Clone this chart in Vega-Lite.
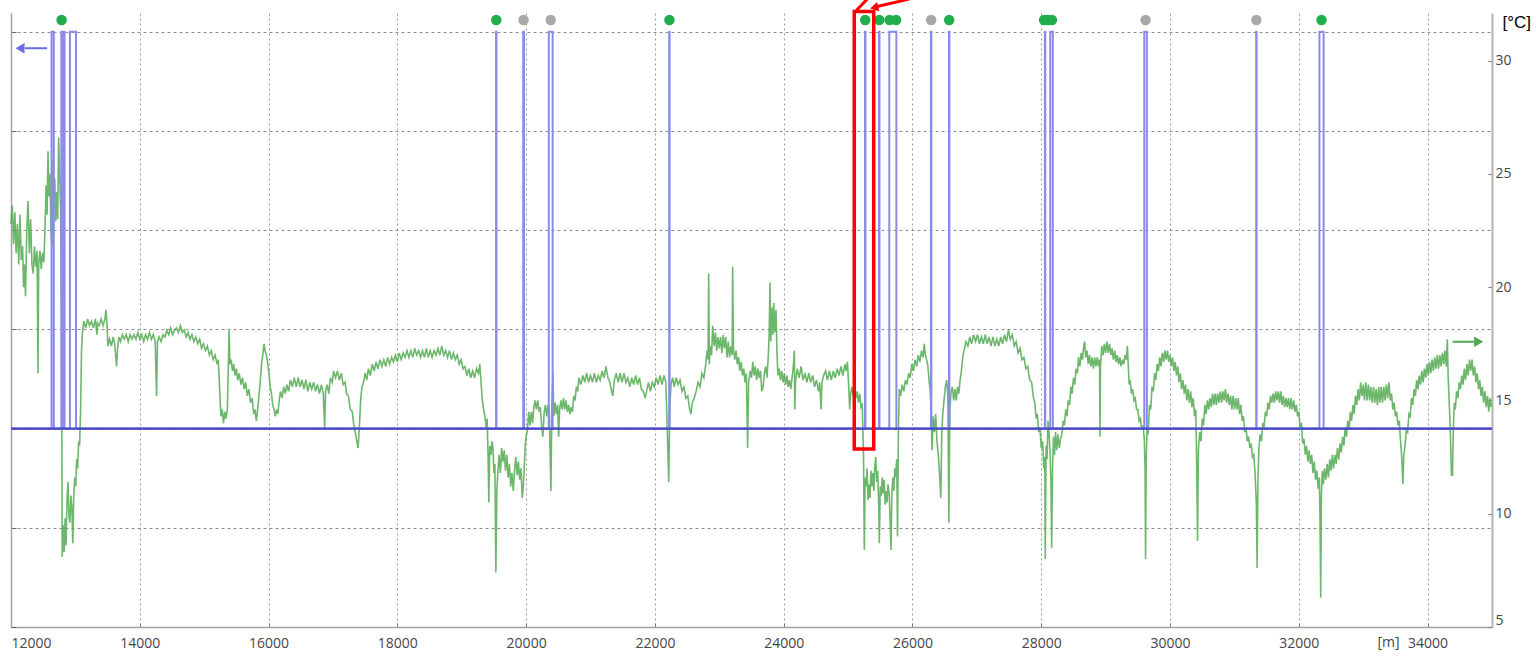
{
  "$schema": "https://vega.github.io/schema/vega-lite/v6.json",
  "autosize": "none",
  "width": 1481,
  "height": 614,
  "padding": {"left": 11, "top": 13, "right": 44, "bottom": 29},
  "background": "white",
  "config": {
    "view": {"stroke": null},
    "font": "Open Sans",
    "axis": {"labelFont": "Open Sans", "labelFontSize": 14, "labelColor": "#454545"}
  },
  "datasets": {
    "temperature": [
      {"m":12000,"t":22.8},{"m":12020,"t":23.6},{"m":12040,"t":21.9},{"m":12060,"t":23.3},{"m":12080,"t":21.5},{"m":12100,"t":22.8},{"m":12120,"t":21.0},{"m":12140,"t":23.2},{"m":12160,"t":21.2},{"m":12180,"t":21.8},{"m":12195,"t":20.0},{"m":12210,"t":21.0},{"m":12225,"t":19.6},{"m":12245,"t":22.5},{"m":12265,"t":23.8},{"m":12285,"t":21.5},{"m":12305,"t":23.0},{"m":12325,"t":21.0},{"m":12345,"t":20.6},{"m":12365,"t":21.8},{"m":12385,"t":20.9},{"m":12405,"t":21.6},{"m":12420,"t":16.2},{"m":12430,"t":21.0},{"m":12450,"t":21.6},{"m":12470,"t":20.8},{"m":12490,"t":21.5},{"m":12510,"t":21.1},{"m":12530,"t":22.8},{"m":12545,"t":24.5},{"m":12560,"t":23.2},{"m":12575,"t":26.0},{"m":12590,"t":24.0},{"m":12605,"t":25.0},{"m":12620,"t":22.6},{"m":12635,"t":21.8},{"m":12650,"t":25.6},{"m":12665,"t":23.5},{"m":12680,"t":24.8},{"m":12695,"t":22.9},{"m":12710,"t":24.2},{"m":12725,"t":23.0},{"m":12740,"t":26.6},{"m":12755,"t":25.0},{"m":12770,"t":23.5},{"m":12785,"t":19.0},{"m":12795,"t":8.1},{"m":12810,"t":9.5},{"m":12825,"t":8.3},{"m":12840,"t":9.8},{"m":12855,"t":8.6},{"m":12870,"t":10.6},{"m":12885,"t":11.4},{"m":12900,"t":9.9},{"m":12915,"t":9.6},{"m":12930,"t":10.8},{"m":12945,"t":10.3},{"m":12960,"t":8.7},{"m":12975,"t":10.8},{"m":12990,"t":11.6},{"m":13005,"t":11.2},{"m":13020,"t":12.4},{"m":13035,"t":12.0},{"m":13050,"t":13.2},{"m":13065,"t":13.0},{"m":13080,"t":14.5},{"m":13095,"t":17.2},{"m":13110,"t":18.0},
      {"m":13130,"t":18.5},{"m":13160,"t":18.2},{"m":13190,"t":18.6},{"m":13220,"t":18.3},{"m":13250,"t":18.5},{"m":13280,"t":18.2},{"m":13310,"t":18.6},{"m":13335,"t":17.9},{"m":13345,"t":18.4},{"m":13370,"t":18.3},{"m":13400,"t":18.6},{"m":13430,"t":18.3},{"m":13460,"t":18.6},{"m":13474,"t":19.0},{"m":13490,"t":18.4},{"m":13505,"t":17.4},{"m":13530,"t":17.7},{"m":13560,"t":17.4},{"m":13585,"t":17.8},{"m":13610,"t":17.5},{"m":13640,"t":16.5},{"m":13655,"t":17.3},{"m":13675,"t":17.8},{"m":13700,"t":17.6},{"m":13730,"t":17.9},{"m":13760,"t":17.7},{"m":13790,"t":17.9},{"m":13820,"t":17.6},{"m":13850,"t":17.9},{"m":13880,"t":17.7},{"m":13910,"t":17.9},{"m":13940,"t":17.7},{"m":13970,"t":18.0},{"m":14000,"t":17.7},{"m":14030,"t":17.9},{"m":14060,"t":17.6},{"m":14090,"t":17.9},{"m":14120,"t":17.7},{"m":14150,"t":18.0},{"m":14180,"t":17.7},{"m":14210,"t":17.9},{"m":14240,"t":17.6},{"m":14260,"t":15.2},{"m":14275,"t":17.6},{"m":14300,"t":17.8},{"m":14330,"t":17.6},{"m":14360,"t":17.9},{"m":14390,"t":17.8},{"m":14420,"t":18.1},{"m":14450,"t":17.9},{"m":14480,"t":18.2},{"m":14510,"t":17.9},{"m":14540,"t":18.1},{"m":14570,"t":18.2},{"m":14600,"t":18.0},{"m":14630,"t":18.3},{"m":14660,"t":18.0},{"m":14690,"t":18.1},{"m":14720,"t":17.8},{"m":14750,"t":18.0},{"m":14780,"t":17.7},{"m":14810,"t":17.9},{"m":14840,"t":17.6},{"m":14870,"t":17.8},{"m":14900,"t":17.5},{"m":14930,"t":17.7},{"m":14960,"t":17.3},{"m":14990,"t":17.5},{"m":15020,"t":17.2},{"m":15050,"t":17.4},{"m":15080,"t":17.0},{"m":15110,"t":17.2},{"m":15140,"t":16.8},{"m":15170,"t":17.0},{"m":15200,"t":16.6},{"m":15220,"t":16.8},{"m":15240,"t":15.5},{"m":15260,"t":14.3},{"m":15280,"t":14.6},{"m":15300,"t":14.0},{"m":15320,"t":14.5},{"m":15340,"t":14.2},{"m":15360,"t":14.6},{"m":15375,"t":16.5},{"m":15387,"t":18.1},{"m":15400,"t":16.6},{"m":15420,"t":16.8},{"m":15440,"t":16.3},{"m":15460,"t":16.6},{"m":15480,"t":16.1},{"m":15500,"t":16.4},{"m":15520,"t":15.9},{"m":15545,"t":16.2},{"m":15570,"t":15.7},{"m":15595,"t":16.0},{"m":15620,"t":15.5},{"m":15645,"t":15.8},{"m":15670,"t":15.2},{"m":15695,"t":15.5},{"m":15720,"t":14.9},{"m":15745,"t":15.1},{"m":15770,"t":14.4},{"m":15790,"t":14.6},{"m":15810,"t":14.1},{"m":15830,"t":14.6},{"m":15850,"t":15.2},{"m":15870,"t":15.8},{"m":15890,"t":16.6},{"m":15910,"t":17.0},{"m":15930,"t":17.5},{"m":15945,"t":17.2},{"m":15965,"t":17.0},{"m":15985,"t":16.7},{"m":16005,"t":16.2},{"m":16025,"t":15.6},{"m":16045,"t":15.3},{"m":16065,"t":14.8},{"m":16085,"t":14.6},{"m":16105,"t":14.3},{"m":16125,"t":14.6},{"m":16145,"t":14.4},{"m":16165,"t":15.0},{"m":16185,"t":15.4},{"m":16210,"t":15.1},{"m":16235,"t":15.6},{"m":16260,"t":15.3},{"m":16285,"t":15.7},{"m":16310,"t":15.4},{"m":16340,"t":15.9},{"m":16370,"t":15.6},{"m":16400,"t":16.0},{"m":16430,"t":15.6},{"m":16460,"t":16.0},{"m":16490,"t":15.6},{"m":16520,"t":15.9},{"m":16550,"t":15.5},{"m":16580,"t":15.9},{"m":16610,"t":15.4},{"m":16640,"t":15.8},{"m":16670,"t":15.5},{"m":16700,"t":15.8},{"m":16730,"t":15.4},{"m":16760,"t":15.7},{"m":16790,"t":15.3},{"m":16820,"t":15.7},{"m":16850,"t":15.3},{"m":16870,"t":13.8},{"m":16885,"t":15.4},{"m":16910,"t":15.7},{"m":16935,"t":15.3},{"m":16960,"t":16.0},{"m":16990,"t":15.8},{"m":17010,"t":16.3},{"m":17040,"t":16.0},{"m":17070,"t":16.3},{"m":17100,"t":15.9},{"m":17130,"t":16.2},{"m":17160,"t":15.7},{"m":17190,"t":15.8},{"m":17210,"t":15.3},{"m":17240,"t":15.2},{"m":17270,"t":14.6},{"m":17300,"t":14.5},{"m":17320,"t":14.0},{"m":17345,"t":13.6},{"m":17370,"t":13.2},{"m":17390,"t":12.9},{"m":17410,"t":13.8},{"m":17430,"t":15.0},{"m":17450,"t":15.6},{"m":17475,"t":15.8},{"m":17500,"t":16.2},{"m":17525,"t":15.9},{"m":17550,"t":16.4},{"m":17580,"t":16.1},{"m":17610,"t":16.6},{"m":17640,"t":16.3},{"m":17670,"t":16.7},{"m":17700,"t":16.4},{"m":17730,"t":16.8},{"m":17760,"t":16.5},{"m":17790,"t":16.8},{"m":17820,"t":16.5},{"m":17850,"t":16.9},{"m":17880,"t":16.6},{"m":17910,"t":16.9},{"m":17940,"t":16.7},{"m":17970,"t":17.0},{"m":18000,"t":16.7},{"m":18030,"t":17.1},{"m":18060,"t":16.8},{"m":18090,"t":17.1},{"m":18120,"t":16.9},{"m":18150,"t":17.2},{"m":18180,"t":16.9},{"m":18210,"t":17.2},{"m":18240,"t":16.9},{"m":18270,"t":17.3},{"m":18300,"t":17.0},{"m":18330,"t":17.2},{"m":18360,"t":16.9},{"m":18390,"t":17.2},{"m":18420,"t":16.9},{"m":18450,"t":17.3},{"m":18480,"t":16.9},{"m":18510,"t":17.2},{"m":18540,"t":16.9},{"m":18570,"t":17.2},{"m":18600,"t":17.0},{"m":18630,"t":17.3},{"m":18660,"t":17.0},{"m":18690,"t":17.4},{"m":18720,"t":17.0},{"m":18750,"t":17.2},{"m":18780,"t":16.9},{"m":18810,"t":17.2},{"m":18840,"t":16.8},{"m":18870,"t":17.1},{"m":18900,"t":16.8},{"m":18930,"t":17.0},{"m":18960,"t":16.6},{"m":18990,"t":16.8},{"m":19020,"t":16.4},{"m":19050,"t":16.5},{"m":19080,"t":16.1},{"m":19110,"t":16.4},{"m":19140,"t":16.0},{"m":19170,"t":16.3},{"m":19200,"t":16.0},{"m":19230,"t":16.4},{"m":19260,"t":16.2},{"m":19280,"t":16.6},{"m":19300,"t":15.8},{"m":19320,"t":15.0},{"m":19340,"t":14.6},{"m":19360,"t":14.3},{"m":19380,"t":13.8},{"m":19395,"t":14.2},{"m":19410,"t":12.4},{"m":19421,"t":10.5},{"m":19435,"t":13.0},{"m":19455,"t":12.6},{"m":19470,"t":13.2},{"m":19485,"t":12.9},{"m":19500,"t":11.8},{"m":19515,"t":12.2},{"m":19530,"t":7.4},{"m":19545,"t":11.0},{"m":19560,"t":11.8},{"m":19580,"t":12.6},{"m":19600,"t":11.8},{"m":19620,"t":12.9},{"m":19640,"t":12.3},{"m":19660,"t":12.8},{"m":19680,"t":11.9},{"m":19700,"t":12.6},{"m":19720,"t":11.6},{"m":19740,"t":12.2},{"m":19760,"t":11.2},{"m":19780,"t":11.8},{"m":19800,"t":11.0},{"m":19820,"t":11.9},{"m":19840,"t":12.5},{"m":19860,"t":11.7},{"m":19880,"t":12.3},{"m":19900,"t":11.5},{"m":19920,"t":12.0},{"m":19940,"t":10.7},{"m":19955,"t":11.2},{"m":19970,"t":11.9},{"m":19985,"t":13.0},{"m":20000,"t":13.4},{"m":20020,"t":13.7},{"m":20040,"t":14.5},{"m":20060,"t":13.9},{"m":20080,"t":14.5},{"m":20100,"t":14.0},{"m":20120,"t":14.7},{"m":20140,"t":15.0},{"m":20160,"t":14.6},{"m":20180,"t":15.0},{"m":20200,"t":14.5},{"m":20220,"t":14.7},{"m":20240,"t":13.9},{"m":20260,"t":13.4},{"m":20280,"t":14.5},{"m":20300,"t":14.8},{"m":20320,"t":14.3},{"m":20340,"t":14.8},{"m":20360,"t":14.4},{"m":20385,"t":11.0},{"m":20400,"t":14.9},{"m":20415,"t":16.2},{"m":20430,"t":14.3},{"m":20450,"t":14.9},{"m":20470,"t":14.4},{"m":20490,"t":14.8},{"m":20505,"t":13.4},{"m":20520,"t":14.6},{"m":20540,"t":15.0},{"m":20560,"t":14.6},{"m":20580,"t":15.1},{"m":20600,"t":14.6},{"m":20620,"t":15.0},{"m":20640,"t":14.5},{"m":20660,"t":14.8},{"m":20680,"t":14.4},{"m":20700,"t":14.7},{"m":20720,"t":14.5},{"m":20740,"t":15.2},{"m":20760,"t":15.0},{"m":20780,"t":15.6},{"m":20800,"t":15.4},{"m":20820,"t":16.0},{"m":20850,"t":15.7},{"m":20880,"t":16.1},{"m":20910,"t":15.8},{"m":20940,"t":16.2},{"m":20970,"t":15.8},{"m":21000,"t":16.1},{"m":21030,"t":15.8},{"m":21060,"t":16.2},{"m":21090,"t":15.8},{"m":21120,"t":16.1},{"m":21150,"t":15.9},{"m":21180,"t":16.3},{"m":21210,"t":16.0},{"m":21240,"t":16.5},{"m":21270,"t":16.0},{"m":21300,"t":15.8},{"m":21320,"t":15.5},{"m":21345,"t":15.2},{"m":21370,"t":15.9},{"m":21400,"t":16.2},{"m":21430,"t":15.8},{"m":21460,"t":16.2},{"m":21490,"t":15.8},{"m":21520,"t":16.2},{"m":21550,"t":15.8},{"m":21580,"t":16.0},{"m":21610,"t":15.6},{"m":21640,"t":16.0},{"m":21670,"t":15.7},{"m":21700,"t":16.1},{"m":21730,"t":15.7},{"m":21760,"t":16.0},{"m":21790,"t":15.5},{"m":21820,"t":15.4},{"m":21850,"t":15.1},{"m":21870,"t":15.4},{"m":21900,"t":15.8},{"m":21930,"t":15.4},{"m":21960,"t":15.8},{"m":21990,"t":15.6},{"m":22020,"t":16.0},{"m":22050,"t":15.7},{"m":22080,"t":16.1},{"m":22110,"t":15.7},{"m":22140,"t":16.1},{"m":22170,"t":15.8},{"m":22195,"t":13.4},{"m":22215,"t":11.4},{"m":22230,"t":14.6},{"m":22250,"t":15.7},{"m":22275,"t":16.0},{"m":22300,"t":15.6},{"m":22330,"t":16.0},{"m":22360,"t":15.7},{"m":22390,"t":15.9},{"m":22420,"t":15.4},{"m":22450,"t":15.6},{"m":22480,"t":15.1},{"m":22510,"t":15.2},{"m":22540,"t":14.6},{"m":22560,"t":14.4},{"m":22580,"t":14.9},{"m":22610,"t":15.1},{"m":22640,"t":15.4},{"m":22670,"t":15.8},{"m":22700,"t":15.6},{"m":22730,"t":16.2},{"m":22760,"t":16.0},{"m":22790,"t":16.6},{"m":22810,"t":17.2},{"m":22825,"t":16.8},{"m":22835,"t":20.6},{"m":22845,"t":16.6},{"m":22860,"t":17.4},{"m":22880,"t":17.0},{"m":22897,"t":18.3},{"m":22920,"t":17.4},{"m":22940,"t":18.0},{"m":22960,"t":17.2},{"m":22980,"t":17.8},{"m":23000,"t":17.3},{"m":23020,"t":17.8},{"m":23040,"t":17.1},{"m":23060,"t":17.9},{"m":23080,"t":17.3},{"m":23100,"t":17.8},{"m":23120,"t":16.9},{"m":23140,"t":17.6},{"m":23160,"t":16.9},{"m":23180,"t":17.4},{"m":23200,"t":17.0},{"m":23207,"t":20.9},{"m":23220,"t":17.3},{"m":23240,"t":16.8},{"m":23260,"t":17.2},{"m":23280,"t":16.6},{"m":23300,"t":16.9},{"m":23320,"t":16.3},{"m":23340,"t":16.7},{"m":23360,"t":16.1},{"m":23380,"t":16.4},{"m":23400,"t":15.8},{"m":23420,"t":16.2},{"m":23440,"t":12.9},{"m":23455,"t":15.8},{"m":23480,"t":16.3},{"m":23500,"t":16.0},{"m":23520,"t":16.7},{"m":23540,"t":16.1},{"m":23560,"t":16.5},{"m":23580,"t":15.9},{"m":23600,"t":16.4},{"m":23620,"t":16.0},{"m":23640,"t":16.3},{"m":23660,"t":15.4},{"m":23680,"t":15.6},{"m":23700,"t":16.2},{"m":23720,"t":16.5},{"m":23740,"t":16.0},{"m":23760,"t":16.9},{"m":23775,"t":18.0},{"m":23787,"t":20.2},{"m":23800,"t":17.6},{"m":23815,"t":19.1},{"m":23830,"t":17.9},{"m":23845,"t":19.3},{"m":23860,"t":18.0},{"m":23880,"t":19.0},{"m":23895,"t":17.2},{"m":23910,"t":16.1},{"m":23930,"t":16.4},{"m":23950,"t":15.9},{"m":23970,"t":16.3},{"m":23990,"t":15.8},{"m":24010,"t":16.2},{"m":24030,"t":15.7},{"m":24050,"t":16.1},{"m":24070,"t":15.6},{"m":24090,"t":15.9},{"m":24110,"t":15.5},{"m":24130,"t":16.0},{"m":24150,"t":16.5},{"m":24165,"t":17.2},{"m":24172,"t":14.6},{"m":24185,"t":15.9},{"m":24210,"t":16.4},{"m":24240,"t":16.0},{"m":24270,"t":16.5},{"m":24300,"t":15.9},{"m":24330,"t":16.2},{"m":24360,"t":15.8},{"m":24390,"t":16.2},{"m":24420,"t":15.8},{"m":24450,"t":16.1},{"m":24480,"t":15.6},{"m":24510,"t":15.9},{"m":24540,"t":15.4},{"m":24560,"t":15.8},{"m":24579,"t":14.6},{"m":24595,"t":15.8},{"m":24620,"t":16.1},{"m":24650,"t":16.3},{"m":24680,"t":15.9},{"m":24710,"t":16.3},{"m":24740,"t":15.9},{"m":24770,"t":16.3},{"m":24800,"t":16.0},{"m":24830,"t":16.4},{"m":24860,"t":16.1},{"m":24890,"t":16.5},{"m":24920,"t":16.1},{"m":24950,"t":16.6},{"m":24970,"t":16.3},{"m":24990,"t":16.7},{"m":25010,"t":15.6},{"m":25025,"t":14.6},{"m":25040,"t":15.3},{"m":25060,"t":15.6},{"m":25080,"t":15.2},{"m":25100,"t":15.5},{"m":25120,"t":15.1},{"m":25140,"t":15.4},{"m":25160,"t":14.9},{"m":25180,"t":15.3},{"m":25200,"t":14.7},{"m":25220,"t":14.8},{"m":25240,"t":12.5},{"m":25252,"t":8.4},{"m":25265,"t":11.6},{"m":25280,"t":11.2},{"m":25295,"t":12.0},{"m":25310,"t":10.6},{"m":25325,"t":11.3},{"m":25340,"t":10.7},{"m":25355,"t":11.9},{"m":25370,"t":11.2},{"m":25385,"t":11.8},{"m":25400,"t":11.0},{"m":25415,"t":12.1},{"m":25430,"t":12.5},{"m":25445,"t":11.4},{"m":25460,"t":11.9},{"m":25475,"t":10.5},{"m":25485,"t":8.7},{"m":25500,"t":11.2},{"m":25515,"t":10.8},{"m":25530,"t":11.6},{"m":25545,"t":10.9},{"m":25560,"t":11.5},{"m":25575,"t":10.4},{"m":25590,"t":11.0},{"m":25605,"t":10.5},{"m":25620,"t":11.3},{"m":25640,"t":10.8},{"m":25655,"t":9.5},{"m":25667,"t":8.4},{"m":25680,"t":10.9},{"m":25695,"t":11.6},{"m":25710,"t":11.0},{"m":25725,"t":12.0},{"m":25740,"t":11.6},{"m":25755,"t":12.4},{"m":25768,"t":9.0},{"m":25782,"t":13.8},{"m":25795,"t":15.5},{"m":25815,"t":15.2},{"m":25840,"t":15.7},{"m":25865,"t":15.4},{"m":25890,"t":15.9},{"m":25915,"t":15.7},{"m":25940,"t":16.2},{"m":25965,"t":16.0},{"m":25990,"t":16.6},{"m":26015,"t":16.3},{"m":26040,"t":16.8},{"m":26065,"t":16.5},{"m":26090,"t":17.0},{"m":26115,"t":16.7},{"m":26140,"t":17.2},{"m":26165,"t":16.9},{"m":26182,"t":17.5},{"m":26200,"t":17.0},{"m":26220,"t":16.8},{"m":26240,"t":16.5},{"m":26260,"t":15.8},{"m":26275,"t":15.5},{"m":26290,"t":14.5},{"m":26305,"t":12.8},{"m":26320,"t":14.3},{"m":26340,"t":13.6},{"m":26360,"t":14.4},{"m":26380,"t":13.2},{"m":26400,"t":12.6},{"m":26420,"t":11.8},{"m":26440,"t":10.7},{"m":26455,"t":13.6},{"m":26470,"t":14.4},{"m":26490,"t":15.0},{"m":26510,"t":15.6},{"m":26530,"t":15.9},{"m":26550,"t":15.2},{"m":26565,"t":9.6},{"m":26580,"t":14.6},{"m":26600,"t":15.4},{"m":26620,"t":15.6},{"m":26640,"t":15.0},{"m":26660,"t":15.5},{"m":26680,"t":15.0},{"m":26700,"t":15.6},{"m":26720,"t":15.3},{"m":26740,"t":15.9},{"m":26760,"t":16.3},{"m":26780,"t":16.9},{"m":26800,"t":17.2},{"m":26830,"t":17.6},{"m":26860,"t":17.4},{"m":26890,"t":17.8},{"m":26920,"t":17.5},{"m":26950,"t":17.9},{"m":26980,"t":17.6},{"m":27010,"t":17.9},{"m":27040,"t":17.5},{"m":27070,"t":17.8},{"m":27100,"t":17.5},{"m":27130,"t":17.9},{"m":27160,"t":17.5},{"m":27190,"t":17.8},{"m":27220,"t":17.4},{"m":27250,"t":17.8},{"m":27280,"t":17.4},{"m":27310,"t":17.7},{"m":27340,"t":17.4},{"m":27370,"t":17.8},{"m":27400,"t":17.5},{"m":27430,"t":17.9},{"m":27460,"t":17.6},{"m":27490,"t":18.1},{"m":27520,"t":17.7},{"m":27550,"t":17.9},{"m":27580,"t":17.4},{"m":27610,"t":17.6},{"m":27640,"t":17.1},{"m":27670,"t":17.3},{"m":27700,"t":16.8},{"m":27730,"t":16.9},{"m":27760,"t":16.4},{"m":27790,"t":16.5},{"m":27820,"t":15.9},{"m":27850,"t":15.8},{"m":27880,"t":15.1},{"m":27900,"t":14.9},{"m":27920,"t":14.2},{"m":27940,"t":14.4},{"m":27960,"t":13.6},{"m":27980,"t":13.8},{"m":28000,"t":12.9},{"m":28020,"t":13.2},{"m":28040,"t":12.0},{"m":28055,"t":12.5},{"m":28062,"t":8.0},{"m":28075,"t":13.0},{"m":28090,"t":12.4},{"m":28105,"t":14.1},{"m":28120,"t":13.6},{"m":28135,"t":12.8},{"m":28150,"t":11.5},{"m":28162,"t":8.5},{"m":28175,"t":12.0},{"m":28190,"t":13.4},{"m":28205,"t":12.6},{"m":28222,"t":13.6},{"m":28240,"t":12.8},{"m":28260,"t":13.5},{"m":28280,"t":12.9},{"m":28300,"t":13.3},{"m":28320,"t":13.5},{"m":28340,"t":14.1},{"m":28360,"t":13.9},{"m":28380,"t":14.6},{"m":28400,"t":14.3},{"m":28420,"t":15.0},{"m":28440,"t":14.8},{"m":28460,"t":15.6},{"m":28480,"t":15.3},{"m":28500,"t":16.0},{"m":28520,"t":15.7},{"m":28540,"t":16.4},{"m":28560,"t":16.2},{"m":28580,"t":16.9},{"m":28600,"t":16.5},{"m":28620,"t":17.1},{"m":28640,"t":16.8},{"m":28660,"t":17.4},{"m":28673,"t":17.6},{"m":28690,"t":16.9},{"m":28710,"t":17.2},{"m":28730,"t":16.6},{"m":28750,"t":17.0},{"m":28770,"t":16.5},{"m":28790,"t":16.9},{"m":28810,"t":16.4},{"m":28830,"t":16.9},{"m":28850,"t":16.5},{"m":28870,"t":16.9},{"m":28890,"t":16.5},{"m":28905,"t":16.8},{"m":28912,"t":13.4},{"m":28920,"t":16.5},{"m":28940,"t":17.4},{"m":28960,"t":17.0},{"m":28980,"t":17.5},{"m":29000,"t":17.1},{"m":29020,"t":17.6},{"m":29040,"t":17.1},{"m":29060,"t":17.5},{"m":29080,"t":17.0},{"m":29100,"t":17.3},{"m":29120,"t":16.8},{"m":29140,"t":17.2},{"m":29160,"t":16.7},{"m":29180,"t":17.0},{"m":29200,"t":16.6},{"m":29220,"t":16.9},{"m":29240,"t":16.5},{"m":29260,"t":16.8},{"m":29280,"t":16.6},{"m":29300,"t":17.0},{"m":29320,"t":16.8},{"m":29338,"t":17.4},{"m":29352,"t":16.5},{"m":29365,"t":15.7},{"m":29380,"t":15.9},{"m":29400,"t":15.3},{"m":29420,"t":15.5},{"m":29440,"t":15.0},{"m":29460,"t":15.1},{"m":29480,"t":14.6},{"m":29500,"t":14.6},{"m":29520,"t":14.1},{"m":29540,"t":14.2},{"m":29560,"t":13.7},{"m":29580,"t":13.9},{"m":29600,"t":13.3},{"m":29612,"t":12.0},{"m":29620,"t":8.0},{"m":29630,"t":12.4},{"m":29645,"t":13.9},{"m":29660,"t":13.5},{"m":29680,"t":14.8},{"m":29700,"t":14.6},{"m":29720,"t":15.6},{"m":29740,"t":15.4},{"m":29760,"t":16.2},{"m":29780,"t":15.9},{"m":29800,"t":16.6},{"m":29820,"t":16.3},{"m":29840,"t":16.9},{"m":29860,"t":16.5},{"m":29880,"t":17.1},{"m":29900,"t":16.7},{"m":29920,"t":17.2},{"m":29940,"t":16.8},{"m":29960,"t":17.2},{"m":29980,"t":16.7},{"m":30000,"t":17.0},{"m":30020,"t":16.5},{"m":30040,"t":16.9},{"m":30060,"t":16.3},{"m":30080,"t":16.7},{"m":30100,"t":16.1},{"m":30120,"t":16.5},{"m":30140,"t":15.8},{"m":30160,"t":16.2},{"m":30180,"t":15.5},{"m":30200,"t":15.9},{"m":30220,"t":15.3},{"m":30240,"t":15.7},{"m":30260,"t":15.0},{"m":30280,"t":15.5},{"m":30300,"t":14.9},{"m":30320,"t":15.4},{"m":30340,"t":14.7},{"m":30360,"t":15.1},{"m":30380,"t":14.3},{"m":30400,"t":14.6},{"m":30415,"t":12.0},{"m":30427,"t":8.8},{"m":30440,"t":12.8},{"m":30460,"t":13.6},{"m":30480,"t":13.2},{"m":30500,"t":14.2},{"m":30520,"t":13.9},{"m":30540,"t":14.8},{"m":30560,"t":14.4},{"m":30580,"t":15.0},{"m":30600,"t":14.6},{"m":30620,"t":15.1},{"m":30640,"t":14.7},{"m":30660,"t":15.3},{"m":30680,"t":14.8},{"m":30700,"t":15.3},{"m":30720,"t":14.8},{"m":30740,"t":15.3},{"m":30760,"t":14.9},{"m":30780,"t":15.4},{"m":30800,"t":14.9},{"m":30820,"t":15.4},{"m":30840,"t":15.0},{"m":30860,"t":15.5},{"m":30880,"t":14.9},{"m":30900,"t":15.3},{"m":30920,"t":14.8},{"m":30940,"t":15.2},{"m":30960,"t":14.6},{"m":30980,"t":15.2},{"m":31000,"t":14.6},{"m":31020,"t":15.1},{"m":31040,"t":14.6},{"m":31060,"t":15.1},{"m":31080,"t":14.4},{"m":31100,"t":14.8},{"m":31120,"t":14.1},{"m":31140,"t":14.3},{"m":31160,"t":13.6},{"m":31180,"t":13.8},{"m":31200,"t":13.2},{"m":31220,"t":13.4},{"m":31240,"t":12.9},{"m":31260,"t":13.1},{"m":31280,"t":12.5},{"m":31300,"t":12.6},{"m":31320,"t":11.8},{"m":31340,"t":10.5},{"m":31352,"t":7.6},{"m":31365,"t":11.5},{"m":31380,"t":12.9},{"m":31400,"t":13.5},{"m":31420,"t":13.2},{"m":31440,"t":14.0},{"m":31460,"t":13.8},{"m":31480,"t":14.5},{"m":31500,"t":14.3},{"m":31520,"t":14.9},{"m":31540,"t":14.6},{"m":31560,"t":15.2},{"m":31580,"t":14.9},{"m":31600,"t":15.3},{"m":31620,"t":14.9},{"m":31640,"t":15.4},{"m":31660,"t":15.0},{"m":31680,"t":15.4},{"m":31700,"t":14.9},{"m":31720,"t":15.4},{"m":31740,"t":14.8},{"m":31760,"t":15.2},{"m":31780,"t":14.7},{"m":31800,"t":15.1},{"m":31820,"t":14.7},{"m":31840,"t":15.1},{"m":31860,"t":14.6},{"m":31880,"t":15.1},{"m":31900,"t":14.6},{"m":31920,"t":15.0},{"m":31940,"t":14.5},{"m":31960,"t":14.8},{"m":31980,"t":14.3},{"m":32000,"t":14.5},{"m":32020,"t":13.8},{"m":32040,"t":14.0},{"m":32060,"t":13.1},{"m":32080,"t":13.3},{"m":32100,"t":12.6},{"m":32120,"t":13.0},{"m":32140,"t":12.3},{"m":32160,"t":12.8},{"m":32180,"t":12.2},{"m":32200,"t":12.6},{"m":32220,"t":11.8},{"m":32240,"t":12.3},{"m":32260,"t":11.5},{"m":32280,"t":11.9},{"m":32300,"t":11.1},{"m":32320,"t":11.6},{"m":32332,"t":9.0},{"m":32340,"t":6.3},{"m":32350,"t":10.8},{"m":32365,"t":11.9},{"m":32380,"t":11.3},{"m":32400,"t":12.0},{"m":32420,"t":11.5},{"m":32440,"t":12.2},{"m":32460,"t":11.6},{"m":32480,"t":12.4},{"m":32500,"t":11.9},{"m":32520,"t":12.6},{"m":32540,"t":12.0},{"m":32560,"t":12.6},{"m":32580,"t":12.2},{"m":32600,"t":12.9},{"m":32620,"t":12.4},{"m":32640,"t":13.1},{"m":32660,"t":12.7},{"m":32680,"t":13.4},{"m":32700,"t":13.0},{"m":32720,"t":13.8},{"m":32740,"t":13.4},{"m":32760,"t":14.1},{"m":32780,"t":13.7},{"m":32800,"t":14.5},{"m":32820,"t":14.1},{"m":32840,"t":14.8},{"m":32860,"t":14.4},{"m":32880,"t":15.2},{"m":32900,"t":14.8},{"m":32920,"t":15.5},{"m":32940,"t":15.0},{"m":32960,"t":15.8},{"m":32980,"t":15.2},{"m":33000,"t":15.7},{"m":33020,"t":15.0},{"m":33040,"t":15.8},{"m":33060,"t":15.0},{"m":33080,"t":15.7},{"m":33100,"t":15.0},{"m":33120,"t":15.6},{"m":33140,"t":14.9},{"m":33160,"t":15.6},{"m":33180,"t":14.9},{"m":33200,"t":15.5},{"m":33220,"t":14.8},{"m":33240,"t":15.6},{"m":33260,"t":14.9},{"m":33280,"t":15.6},{"m":33300,"t":14.9},{"m":33320,"t":15.6},{"m":33340,"t":15.0},{"m":33360,"t":15.7},{"m":33380,"t":15.1},{"m":33400,"t":15.8},{"m":33420,"t":15.0},{"m":33440,"t":15.3},{"m":33460,"t":14.6},{"m":33480,"t":14.9},{"m":33500,"t":14.3},{"m":33520,"t":14.5},{"m":33540,"t":13.9},{"m":33560,"t":14.1},{"m":33580,"t":13.2},{"m":33600,"t":12.4},{"m":33616,"t":11.3},{"m":33630,"t":12.6},{"m":33650,"t":13.0},{"m":33670,"t":13.7},{"m":33690,"t":13.6},{"m":33710,"t":14.4},{"m":33730,"t":14.3},{"m":33750,"t":15.1},{"m":33770,"t":14.8},{"m":33790,"t":15.5},{"m":33810,"t":15.2},{"m":33830,"t":15.9},{"m":33850,"t":15.5},{"m":33870,"t":16.1},{"m":33890,"t":15.7},{"m":33910,"t":16.3},{"m":33930,"t":15.8},{"m":33950,"t":16.4},{"m":33970,"t":16.0},{"m":33990,"t":16.6},{"m":34010,"t":16.1},{"m":34030,"t":16.7},{"m":34050,"t":16.2},{"m":34070,"t":16.8},{"m":34090,"t":16.3},{"m":34110,"t":16.9},{"m":34130,"t":16.4},{"m":34150,"t":17.0},{"m":34170,"t":16.4},{"m":34190,"t":17.0},{"m":34210,"t":16.5},{"m":34230,"t":17.1},{"m":34250,"t":16.6},{"m":34270,"t":17.2},{"m":34290,"t":16.5},{"m":34306,"t":17.7},{"m":34320,"t":16.0},{"m":34340,"t":14.6},{"m":34355,"t":13.5},{"m":34370,"t":11.7},{"m":34386,"t":11.7},{"m":34400,"t":13.8},{"m":34415,"t":14.9},{"m":34430,"t":14.6},{"m":34450,"t":15.4},{"m":34470,"t":15.1},{"m":34490,"t":15.8},{"m":34510,"t":15.5},{"m":34530,"t":16.1},{"m":34550,"t":15.7},{"m":34570,"t":16.4},{"m":34590,"t":15.9},{"m":34610,"t":16.6},{"m":34630,"t":16.1},{"m":34650,"t":16.8},{"m":34670,"t":16.3},{"m":34690,"t":16.8},{"m":34710,"t":16.1},{"m":34730,"t":16.5},{"m":34750,"t":15.8},{"m":34770,"t":16.2},{"m":34790,"t":15.5},{"m":34810,"t":15.9},{"m":34830,"t":15.2},{"m":34850,"t":15.6},{"m":34870,"t":14.9},{"m":34890,"t":15.4},{"m":34910,"t":14.7},{"m":34930,"t":15.2},{"m":34950,"t":14.5},{"m":34970,"t":15.1},{"m":34990,"t":14.7}
    ],
    "flag": [
      {"m":12000,"v":0},
      {"m":12630,"v":0},{"m":12630,"v":4},{"m":12665,"v":4},{"m":12665,"v":0},
      {"m":12782,"v":0},{"m":12782,"v":4},{"m":12790,"v":4},{"m":12790,"v":0},
      {"m":12822,"v":0},{"m":12822,"v":4},{"m":12832,"v":4},{"m":12832,"v":0},
      {"m":12915,"v":0},{"m":12915,"v":4},{"m":13010,"v":4},{"m":13010,"v":0},
      {"m":19533,"v":0},{"m":19533,"v":4},{"m":19539,"v":4},{"m":19539,"v":0},
      {"m":19955,"v":0},{"m":19955,"v":4},{"m":19968,"v":4},{"m":19968,"v":0},
      {"m":20352,"v":0},{"m":20352,"v":4},{"m":20412,"v":4},{"m":20412,"v":0},
      {"m":22222,"v":0},{"m":22222,"v":4},{"m":22228,"v":4},{"m":22228,"v":0},
      {"m":25263,"v":0},{"m":25263,"v":4},{"m":25269,"v":4},{"m":25269,"v":0},
      {"m":25481,"v":0},{"m":25481,"v":4},{"m":25487,"v":4},{"m":25487,"v":0},
      {"m":25640,"v":0},{"m":25640,"v":4},{"m":25750,"v":4},{"m":25750,"v":0},
      {"m":26287,"v":0},{"m":26287,"v":4},{"m":26293,"v":4},{"m":26293,"v":0},
      {"m":26567,"v":0},{"m":26567,"v":4},{"m":26573,"v":4},{"m":26573,"v":0},
      {"m":28056,"v":0},{"m":28056,"v":4},{"m":28062,"v":4},{"m":28062,"v":0},
      {"m":28140,"v":0},{"m":28140,"v":4},{"m":28180,"v":4},{"m":28180,"v":0},
      {"m":29600,"v":0},{"m":29600,"v":4},{"m":29640,"v":4},{"m":29640,"v":0},
      {"m":31338,"v":0},{"m":31338,"v":4},{"m":31344,"v":4},{"m":31344,"v":0},
      {"m":32320,"v":0},{"m":32320,"v":4},{"m":32385,"v":4},{"m":32385,"v":0},
      {"m":35000,"v":0}
    ],
    "events": [
      {"m":12786,"k":"on"},{"m":19536,"k":"on"},{"m":19960,"k":"off"},{"m":20382,"k":"off"},
      {"m":22225,"k":"on"},{"m":25266,"k":"on"},{"m":25484,"k":"on"},{"m":25645,"k":"on"},
      {"m":25745,"k":"on"},{"m":26290,"k":"off"},{"m":26570,"k":"on"},{"m":28044,"k":"on"},
      {"m":28100,"k":"on"},{"m":28165,"k":"on"},{"m":29620,"k":"off"},{"m":31341,"k":"off"},
      {"m":32352,"k":"on"}
    ]
  },
  "encoding": {
    "x": {
      "field": "m",
      "type": "quantitative",
      "scale": {"domain": [12000, 35000], "nice": false, "zero": false},
      "axis": {
        "values": [12000, 14000, 16000, 18000, 20000, 22000, 24000, 26000, 28000, 30000, 32000, 34000],
        "format": "d",
        "labelFlush": true,
        "labelPadding": 13,
        "tickSize": -4,
        "tickColor": "#777777",
        "grid": true,
        "gridColor": "#9a9a9a",
        "gridDash": [2, 3],
        "domainColor": "#a3a3a3",
        "domainWidth": 1.5,
        "title": "[m]",
        "titleX": 1366,
        "titleY": 8,
        "titleAlign": "left",
        "titleBaseline": "top",
        "titleFont": "Open Sans",
        "titleFontSize": 14,
        "titleFontWeight": "normal",
        "titleColor": "#454545"
      }
    }
  },
  "layer": [
    {
      "encoding": {
        "y": {
          "field": "t",
          "type": "quantitative",
          "scale": {"domain": [5, 32.1], "nice": false, "zero": false},
          "axis": {
            "orient": "right",
            "values": [5, 10, 15, 20, 25, 30],
            "grid": false,
            "labelFlush": true,
            "labelPadding": 7,
            "tickSize": -4,
            "tickColor": "#777777",
            "domainColor": "#b3b3b3",
            "domainWidth": 2,
            "title": "[°C]",
            "titleAngle": 0,
            "titleX": 10,
            "titleY": 9,
            "titleAlign": "left",
            "titleBaseline": "middle",
            "titleFont": "Liberation Sans",
            "titleFontSize": 17,
            "titleFontWeight": "normal",
            "titleColor": "#000000"
          }
        }
      },
      "layer": [
        {
          "data": {"name": "temperature"},
          "mark": {"type": "line", "color": "#54aa54", "strokeWidth": 1.6, "opacity": 0.85}
        },
        {
          "data": {"values": [{"m": 34389, "m2": 34720, "t": 17.59}]},
          "mark": {"type": "rule", "color": "#4fa84f", "strokeWidth": 2},
          "encoding": {"x2": {"field": "m2"}}
        },
        {
          "data": {"values": [{"m": 34793, "t": 17.59}]},
          "mark": {"type": "point", "shape": "triangle-right", "filled": true, "color": "#4fa84f", "size": 110, "opacity": 1}
        }
      ]
    },
    {
      "encoding": {
        "y": {
          "field": "v",
          "type": "quantitative",
          "scale": {"domain": [-2, 4.19], "nice": false, "zero": false},
          "axis": {
            "orient": "left",
            "values": [-2, -1, 0, 1, 2, 3, 4],
            "labels": false,
            "grid": true,
            "gridColor": "#8c8c8c",
            "gridDash": [3, 3],
            "tickSize": -5,
            "tickColor": "#666666",
            "domainColor": "#a3a3a3",
            "domainWidth": 1.5,
            "title": null
          }
        }
      },
      "layer": [
        {
          "data": {"name": "flag"},
          "mark": {"type": "line", "color": "#8a8aec", "strokeWidth": 2}
        },
        {
          "data": {"values": [{"m": 12000, "m2": 35000, "v": 0}]},
          "mark": {"type": "rule", "color": "#4646c8", "strokeWidth": 2.2},
          "encoding": {"x2": {"field": "m2"}}
        },
        {
          "data": {"values": [{"m": 12217, "m2": 12559, "v": 3.835}]},
          "mark": {"type": "rule", "color": "#6b6be4", "strokeWidth": 2},
          "encoding": {"x2": {"field": "m2"}}
        },
        {
          "data": {"values": [{"m": 12140, "v": 3.835}]},
          "mark": {"type": "point", "shape": "triangle-left", "filled": true, "color": "#6b6be4", "size": 110, "opacity": 1}
        },
        {
          "data": {"name": "events"},
          "transform": [{"calculate": "4.12", "as": "v"}],
          "mark": {"type": "circle", "size": 110, "opacity": 1},
          "encoding": {
            "color": {
              "field": "k",
              "type": "nominal",
              "scale": {"domain": ["on", "off"], "range": ["#1fae4b", "#a8a8a8"]},
              "legend": null
            }
          }
        },
        {
          "data": {"values": [{"m": 25096, "m2": 25398, "v": 4.205, "v2": -0.205}]},
          "mark": {"type": "rect", "filled": false, "stroke": "#ff0000", "strokeWidth": 3.5},
          "encoding": {"x2": {"field": "m2"}, "y2": {"field": "v2"}}
        },
        {
          "data": {"values": [
            {"m": 25297, "m2": 25127, "v": 4.33, "v2": 4.215},
            {"m": 25949, "m2": 25450, "v": 4.33, "v2": 4.255}
          ]},
          "mark": {"type": "rule", "color": "#ff0000", "strokeWidth": 3},
          "encoding": {"x2": {"field": "m2"}, "y2": {"field": "v2"}}
        },
        {
          "data": {"values": [{"m": 25405, "v": 4.245}]},
          "mark": {"type": "point", "shape": "triangle-left", "filled": true, "color": "#ff0000", "size": 90, "opacity": 1, "angle": 346}
        }
      ]
    }
  ],
  "resolve": {"scale": {"y": "independent"}}
}
